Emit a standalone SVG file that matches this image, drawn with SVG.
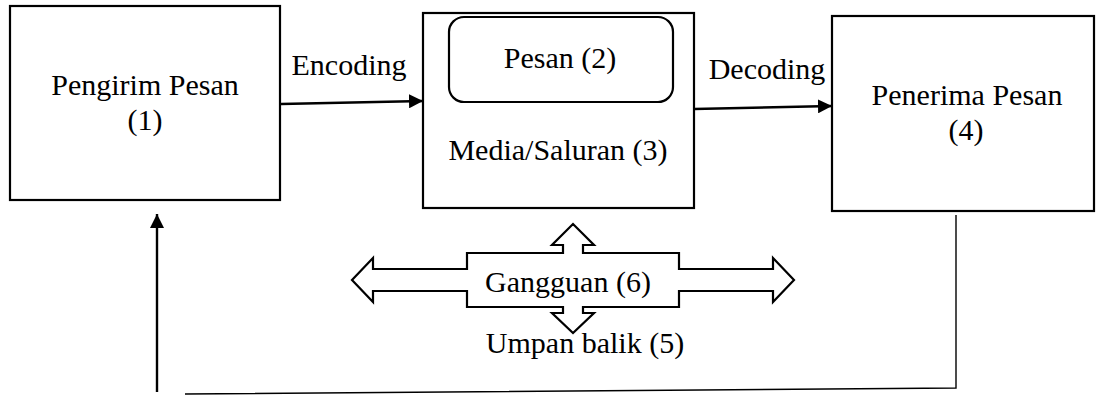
<svg xmlns="http://www.w3.org/2000/svg" width="1096" height="395" viewBox="0 0 1096 395">
  <style>
    .box { fill: #ffffff; stroke: #000000; stroke-width: 2.2; }
    .lbl { font-size: 30px; fill: #000000; text-anchor: middle; }
    .flow { fill: none; stroke: #000000; stroke-width: 2.4; }
    .thin { fill: none; stroke: #000000; stroke-width: 1.4; }
    .block { fill: #ffffff; stroke: #000000; stroke-width: 2.2; stroke-linejoin: miter; }
  </style>
  <defs>
    <marker id="tri" viewBox="0 0 10 10" refX="10" refY="5" markerWidth="14" markerHeight="14" markerUnits="userSpaceOnUse" orient="auto">
      <path d="M0,0 L10,5 L0,10 Z" fill="#000000"/>
    </marker>
  </defs>

  <g font-family="Liberation Serif, Times New Roman, Times, serif">
  <!-- sender -->
  <g id="sender">
    <rect class="box" x="10" y="6" width="270" height="194"/>
    <text class="lbl" x="145" y="95">Pengirim Pesan</text>
    <text class="lbl" x="145" y="130">(1)</text>
  </g>

  <!-- channel containing the message -->
  <g id="channel">
    <rect class="box" x="423" y="13" width="271" height="195"/>
    <text class="lbl" x="558" y="160">Media/Saluran (3)</text>
  </g>
  <g id="message">
    <rect class="box" x="449" y="17" width="224" height="85" rx="15" ry="15"/>
    <text class="lbl" x="560" y="68">Pesan (2)</text>
  </g>

  <!-- receiver -->
  <g id="receiver">
    <rect class="box" x="832" y="16" width="262" height="195"/>
    <text class="lbl" x="967" y="105">Penerima Pesan</text>
    <text class="lbl" x="966" y="140">(4)</text>
  </g>

  <!-- noise: four-way block arrow -->
  <g id="noise">
    <path class="block" d="M352,280 L373,258 L373,269 L467,269 L467,253 L563,253 L563,245 L552,245 L573,224 L594,245 L583,245 L583,253 L679,253 L679,269 L773,269 L773,258 L794,280 L773,302 L773,291 L679,291 L679,307 L583,307 L583,313 L594,313 L573,333 L552,313 L563,313 L563,307 L467,307 L467,291 L373,291 L373,302 Z"/>
    <text class="lbl" x="568" y="292">Gangguan (6)</text>
  </g>

  <g id="feedback-label">
    <text class="lbl" x="585" y="353">Umpan balik (5)</text>
  </g>

  <!-- connectors -->
  <g id="connectors">
    <line class="flow" x1="281" y1="104" x2="423" y2="101" marker-end="url(#tri)"/>
    <text class="lbl" x="349" y="75">Encoding</text>
    <line class="flow" x1="694" y1="109" x2="832" y2="106" marker-end="url(#tri)"/>
    <text class="lbl" x="767" y="79">Decoding</text>
    <!-- feedback loop back to the sender -->
    <polyline class="thin" points="956,215 956,388 185,394"/>
    <line class="flow" x1="157" y1="392" x2="157" y2="214" marker-end="url(#tri)"/>
  </g>
  </g>
</svg>
